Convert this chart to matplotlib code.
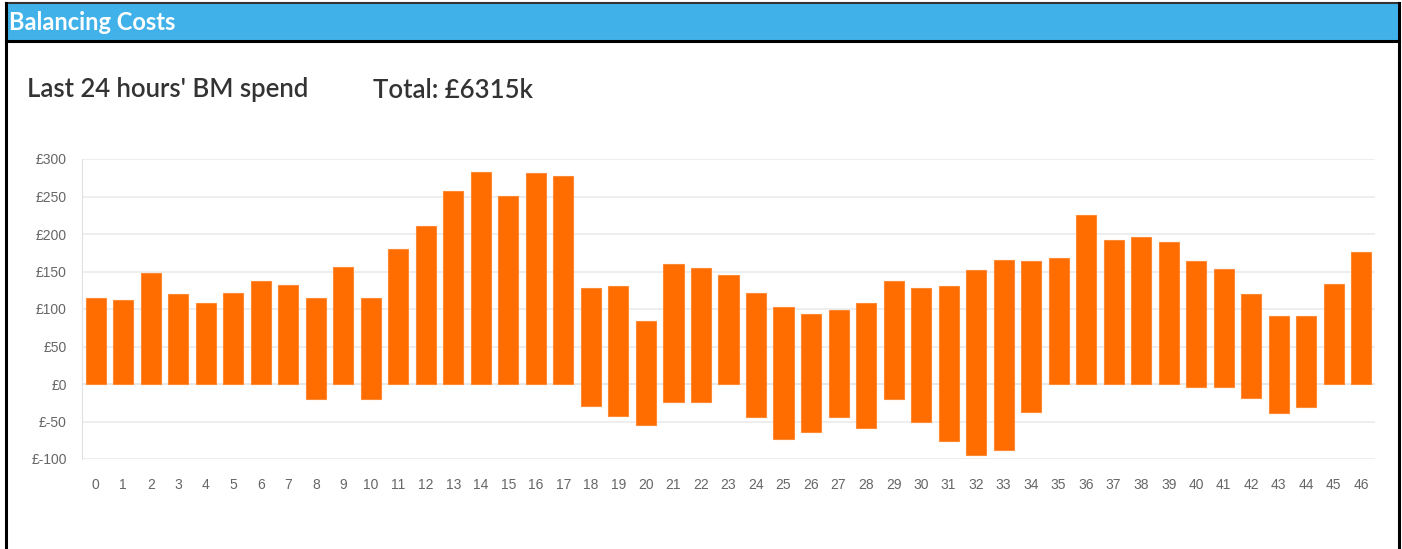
import matplotlib
matplotlib.use("Agg")
import matplotlib.pyplot as plt
from matplotlib.patches import Rectangle
import numpy as np

W, H = 1402, 549

periods = list(range(47))
bar_top = [115, 112, 148, 120, 108, 121, 137, 132, 115, 156, 115, 180, 211, 257, 283, 251,
           281, 277, 128, 131, 84, 160, 155, 145, 122, 103, 93, 99, 108, 137, 128, 131,
           152, 166, 164, 168, 225, 192, 196, 190, 164, 154, 120, 91, 91, 133, 176]
bar_bottom = [0, 0, 0, 0, 0, 0, 0, 0, -20, 0, -20, 0, 0, 0, 0, 0,
              0, 0, -29, -43, -55, -24, -24, 0, -44, -73, -64, -44, -59, -20, -51, -76,
              -95, -88, -37, 0, 0, 0, 0, 0, -4, -4, -19, -38, -30, 0, 0]
y_ticks = [-100, -50, 0, 50, 100, 150, 200, 250, 300]
header_text = "Balancing Costs"
title_left = "Last 24 hours' BM spend"
title_right = "Total: £6315k"

fig = plt.figure(figsize=(W / 100, H / 100), dpi=100)
fig.patch.set_facecolor("white")

def fx(x):
    return x / W

def fy(y):
    return 1 - y / H

# header bar
fig.add_artist(Rectangle((fx(6), fy(40)), fx(1393), 36 / H, transform=fig.transFigure,
                         facecolor="#41B2E9", edgecolor="none", zorder=1))
# borders
lw = 2.2
fig.add_artist(plt.Line2D([fx(6), fx(1399)], [fy(3), fy(3)], transform=fig.transFigure,
                          color="#333333", lw=1.5))
fig.add_artist(plt.Line2D([fx(6), fx(1399)], [fy(40.5), fy(40.5)], transform=fig.transFigure,
                          color="black", lw=lw))
fig.add_artist(plt.Line2D([fx(6), fx(6)], [fy(3), fy(549)], transform=fig.transFigure,
                          color="black", lw=lw))
fig.add_artist(plt.Line2D([fx(1398.5), fx(1398.5)], [fy(3), fy(549)], transform=fig.transFigure,
                          color="black", lw=lw))

fig.text(fx(9), fy(22), header_text, color="white", fontsize=17, fontweight="bold",
         family="Lato", va="center", ha="left")
fig.text(fx(27), fy(90), title_left, color="#333333", fontsize=18.5, fontweight="semibold",
         family="Lato", va="center", ha="left")
fig.text(fx(373), fy(90), title_right, color="#333333", fontsize=18.5, fontweight="semibold",
         family="Lato", va="center", ha="left")

ax = fig.add_axes([fx(82), fy(459), (1375 - 82) / W, (459 - 159) / H])
x = np.array(periods)
top = np.array(bar_top)
bot = np.array(bar_bottom)
ax.bar(x, top - bot, bottom=bot, width=0.73, color="#FF6C00", edgecolor="#FF8A33",
       linewidth=0.8, zorder=3)

ax.set_xlim(-0.5, 46.5)
ax.set_ylim(-100, 300)
ax.set_yticks(y_ticks)
ax.set_yticklabels([f"£{v}" for v in y_ticks])
ax.set_xticks(x)
ax.set_xticklabels([str(p) for p in periods])
ax.grid(axis="y", color="#EBEBEB", lw=1.2, zorder=0)
ax.axhline(0, color="#D8D8D8", lw=1.2, zorder=1)
for s in ["top", "right", "bottom"]:
    ax.spines[s].set_visible(False)
ax.spines["left"].set_color("#E0E0E0")
ax.tick_params(axis="both", length=0, colors="#666666", labelsize=10)
ax.tick_params(axis="y", pad=11)
ax.tick_params(axis="x", pad=14)
for lab in ax.get_xticklabels() + ax.get_yticklabels():
    lab.set_family("Liberation Sans")

fig.savefig("out.png", dpi=100, facecolor="white")
